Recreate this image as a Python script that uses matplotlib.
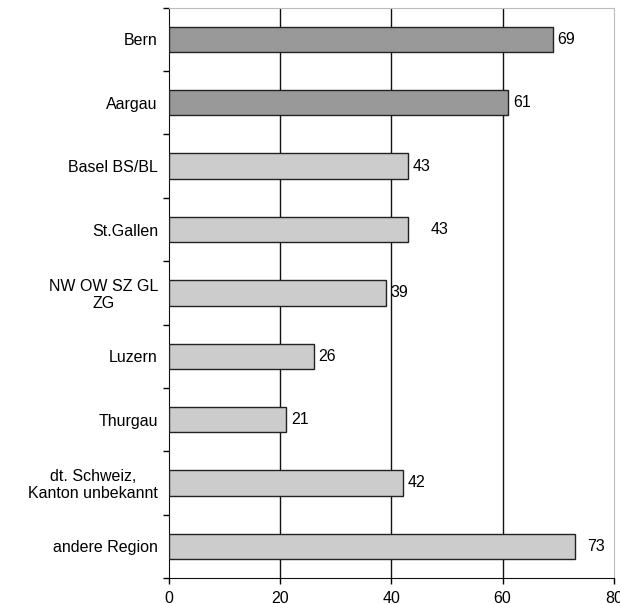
import matplotlib

matplotlib.use("Agg")
import matplotlib.pyplot as plt
import numpy as np

regions = [
    "Bern",
    "Aargau",
    "Basel BS/BL",
    "St.Gallen",
    "NW OW SZ GL\nZG",
    "Luzern",
    "Thurgau",
    "dt. Schweiz,\nKanton unbekannt",
    "andere Region",
]
counts = [69, 61, 43, 43, 39, 26, 21, 42, 73]
highlighted = [True, True, False, False, False, False, False, False, False]
label_pad = [0.9, 0.9, 0.9, 4.0, 0.9, 0.9, 0.9, 0.9, 2.2]
xticks = [0, 20, 40, 60, 80]

plt.rcParams["font.family"] = ["Liberation Sans", "DejaVu Sans"]
plt.rcParams["font.size"] = 11.5

fig = plt.figure(figsize=(6.2, 6.04), dpi=100)
ax = fig.add_axes([0.2726, 0.043, 0.7174, 0.9442])

y = np.arange(len(regions))
colors = ["#999999" if h else "#cccccc" for h in highlighted]
ax.barh(y, counts, height=0.4, color=colors, edgecolor="#222222", linewidth=1.0, zorder=3)

for yi, v, pad in zip(y, counts, label_pad):
    ax.text(v + pad, yi, str(v), va="center", ha="left", zorder=4)

ax.set_xlim(0, 80)
ax.set_ylim(len(regions) - 0.5, -0.5)
ax.set_xticks(xticks)
ax.set_xticklabels([str(t) for t in xticks])
ax.set_yticks(y)
ax.set_yticklabels(regions, multialignment="center", linespacing=1.1)
ax.set_yticks(np.arange(len(regions) + 1) - 0.5, minor=True)
ax.tick_params(axis="y", which="major", length=0, pad=8)
ax.tick_params(axis="y", which="minor", length=4, width=1.0, direction="out")
ax.tick_params(axis="x", length=4, width=1.0, direction="out", pad=5)

for gx in xticks[1:-1]:
    ax.axvline(gx, color="#111111", lw=1.0, zorder=1)

ax.spines["left"].set_color("#111111")
ax.spines["bottom"].set_color("#111111")
ax.spines["top"].set_color("#bbbbbb")
ax.spines["right"].set_color("#bbbbbb")

fig.savefig("out.png", dpi=100)
